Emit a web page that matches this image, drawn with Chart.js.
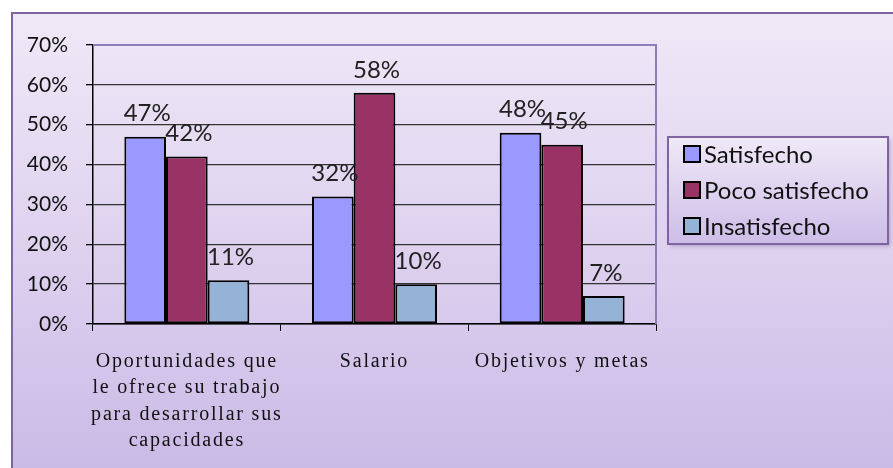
<!DOCTYPE html>
<html>
<head>
<meta charset="utf-8">
<script src="https://cdn.jsdelivr.net/npm/chart.js@4.4.1/dist/chart.umd.min.js"></script>
<style>
  html, body { margin: 0; padding: 0; width: 893px; height: 468px; overflow: hidden; background: #fff; }
  #frame {
    position: absolute; left: 11px; top: 12px; width: 900px; height: 470px;
    border: 2px solid #8064a2; box-sizing: border-box;
    background: linear-gradient(to bottom, #efe9f7 0%, #dccfee 55%, #c9b9e6 100%);
  }
  #wrap { position: absolute; left: 0; top: 0; width: 893px; height: 468px; }
</style>
</head>
<body>
<div id="frame"></div>
<div id="wrap"><canvas id="chart" width="893" height="468"></canvas></div>
<script>
// Data
const categories = [
    ['Oportunidades que', 'le ofrece su trabajo', 'para desarrollar sus', 'capacidades'],
    'Salario',
    'Objetivos y metas'
];
const satisfecho = [47, 32, 48];
const pocoSatisfecho = [42, 58, 45];
const insatisfecho = [11, 10, 7];
const seriesNames = ['Satisfecho', 'Poco satisfecho', 'Insatisfecho'];
const seriesColors = ['#9999ff', '#993366', '#95b3d7'];
const yTicks = [0, 10, 20, 30, 40, 50, 60, 70];

const sansFont = 'Lato, "Open Sans", sans-serif';

// Value labels above each bar
const valueLabels = {
    id: 'valueLabels',
    afterDatasetsDraw(chart) {
        const ctx = chart.ctx;
        ctx.save();
        ctx.fillStyle = '#222';
        ctx.font = '24px ' + sansFont;
        ctx.textAlign = 'center';
        ctx.textBaseline = 'bottom';
        chart.data.datasets.forEach((ds, i) => {
            chart.getDatasetMeta(i).data.forEach((bar, j) => {
                ctx.fillText(ds.data[j] + '%', bar.x + 2, bar.y - 11);
            });
        });
        ctx.restore();
    }
};

// Plot area border (top/right) in purple, and spaced-out category labels
const plotBorder = {
    id: 'plotBorder',
    beforeDraw(chart) {
        const xs = chart.scales.x;
        if (!xs._spaced) {
            const orig = xs.drawLabels;
            xs.drawLabels = function (area) {
                const c = this.ctx;
                c.save();
                c.letterSpacing = '1.8px';
                orig.call(this, area);
                c.restore();
            };
            xs._spaced = true;
        }
    },
    beforeDatasetsDraw(chart) {
        const a = chart.chartArea;
        const ctx = chart.ctx;
        ctx.save();
        ctx.strokeStyle = '#8e7cb8';
        ctx.lineWidth = 2;
        ctx.beginPath();
        ctx.moveTo(a.left, a.top);
        ctx.lineTo(a.right, a.top);
        ctx.lineTo(a.right, a.bottom);
        ctx.stroke();
        ctx.restore();
    }
};

// Boxed legend on the right
const boxLegend = {
    id: 'boxLegend',
    afterDraw(chart) {
        const ctx = chart.ctx;
        const x = 668, y = 137, w = 220, h = 107;
        ctx.save();
        ctx.shadowColor = 'rgba(80,60,110,0.35)';
        ctx.shadowBlur = 4;
        ctx.shadowOffsetX = 2;
        ctx.shadowOffsetY = 2;
        const g = ctx.createLinearGradient(0, y, 0, y + h);
        g.addColorStop(0, '#efe9f7');
        g.addColorStop(1, '#cdbde8');
        ctx.fillStyle = g;
        ctx.fillRect(x, y, w, h);
        ctx.shadowColor = 'transparent';
        ctx.strokeStyle = '#8064a2';
        ctx.lineWidth = 2;
        ctx.strokeRect(x, y, w, h);
        ctx.font = '24px ' + sansFont;
        ctx.textBaseline = 'middle';
        ctx.textAlign = 'left';
        chart.data.datasets.forEach((ds, i) => {
            const cy = y + 17 + i * 36;
            ctx.fillStyle = ds.backgroundColor;
            ctx.fillRect(684, cy - 8, 16, 16);
            ctx.strokeStyle = '#000';
            ctx.lineWidth = 2;
            ctx.strokeRect(684, cy - 8, 16, 16);
            ctx.fillStyle = '#111';
            ctx.fillText(ds.label, 704, cy + 1);
        });
        ctx.restore();
    }
};

function makeDataset(label, data, color) {
    return {
        label: label,
        data: data,
        backgroundColor: color,
        borderColor: '#000',
        borderWidth: 2,
        borderSkipped: false,
        barPercentage: 1,
        categoryPercentage: 0.666
    };
}

document.addEventListener('DOMContentLoaded', () => {
    const ctx = document.getElementById('chart').getContext('2d');
    new Chart(ctx, {
        type: 'bar',
        data: {
            labels: categories,
            datasets: [
                makeDataset(seriesNames[0], satisfecho, seriesColors[0]),
                makeDataset(seriesNames[1], pocoSatisfecho, seriesColors[1]),
                makeDataset(seriesNames[2], insatisfecho, seriesColors[2])
            ]
        },
        options: {
            responsive: false,
            animation: false,
            layout: { padding: { left: 20, right: 237, top: 45, bottom: 0 } },
            plugins: {
                legend: { display: false },
                tooltip: { enabled: false }
            },
            scales: {
                x: {
                    afterFit: (scale) => { scale.height = 144; },
                    grid: {
                        offset: true,
                        drawOnChartArea: false,
                        drawTicks: true,
                        tickLength: 7,
                        color: '#000'
                    },
                    border: { color: '#000', width: 1.5 },
                    ticks: {
                        color: '#111',
                        padding: 17,
                        maxRotation: 0,
                        autoSkip: false,
                        font: { family: '"Liberation Serif", "Times New Roman", serif', size: 20, lineHeight: 1.33 }
                    }
                },
                y: {
                    min: yTicks[0],
                    max: yTicks[yTicks.length - 1],
                    afterFit: (scale) => { scale.width = 73; },
                    afterBuildTicks: (scale) => { scale.ticks = yTicks.map(v => ({ value: v })); },
                    grid: {
                        color: (c) => c.tick && c.tick.value === 70 ? '#8e7cb8' : '#333',
                        lineWidth: 1.3,
                        tickLength: 7,
                        tickColor: '#000'
                    },
                    border: { color: '#000', width: 1.5 },
                    ticks: {
                        color: '#111',
                        padding: 18,
                        callback: (v) => v + '%',
                        font: { family: sansFont, size: 21 }
                    }
                }
            }
        },
        plugins: [plotBorder, valueLabels, boxLegend]
    });
});
</script>
</body>
</html>
